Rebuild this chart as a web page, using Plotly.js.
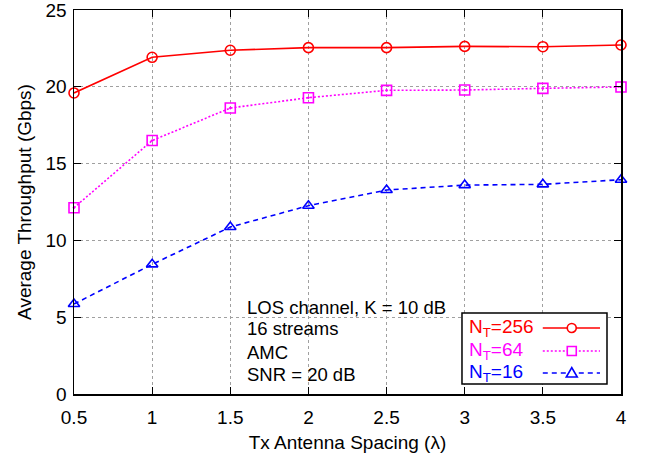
<!DOCTYPE html>
<html><head><meta charset="utf-8">
<script src="https://cdn.plot.ly/plotly-3.0.1.min.js"></script>
<style>html,body{margin:0;padding:0;background:#fff}</style>
</head><body>
<div id="chart" style="width:649px;height:460px"></div>
<script>
const spacing = [0.5, 1, 1.5, 2, 2.5, 3, 3.5, 4];
const nt256 = [19.6, 21.92, 22.38, 22.55, 22.55, 22.63, 22.61, 22.72];
const nt64  = [12.13, 16.5, 18.62, 19.29, 19.77, 19.79, 19.9, 19.99];
const nt16  = [5.86, 8.44, 10.87, 12.26, 13.28, 13.6, 13.65, 13.95];
const seriesNames = ['N<sub>T</sub>=256', 'N<sub>T</sub>=64', 'N<sub>T</sub>=16'];
const noteLines = ['LOS channel, K = 10 dB', '16 streams', 'AMC', 'SNR = 20 dB'];
const xTicks = [0.5, 1, 1.5, 2, 2.5, 3, 3.5, 4];
const yTicks = [0, 5, 10, 15, 20, 25];

const colors = ['#ff0000', '#ff00ff', '#0000ff'];
const dashes = ['solid', '2px,2px', '5px,4px'];
const symbols = ['circle-open', 'square-open-dot', 'triangle-up-open'];
const allY = [nt256, nt64, nt16];

const traces = allY.map((ys, i) => ({
  x: spacing, y: ys, type: 'scatter', mode: 'lines+markers', name: seriesNames[i],
  line: {color: colors[i], width: 1.6, dash: dashes[i]},
  marker: {symbol: symbols[i], size: 10, color: colors[i], line: {color: colors[i], width: 1.6}},
  cliponaxis: false, showlegend: false
}));

const font = 'Liberation Sans, Arial, Helvetica, sans-serif';
const annotations = [];
const shapes = [];
const noteY = [0.226, 0.1695, 0.109, 0.0495];
noteLines.forEach((t, i) => annotations.push({
  xref: 'paper', yref: 'paper', x: 0.3125, y: noteY[i], xanchor: 'left', yanchor: 'middle',
  text: t, showarrow: false, font: {family: font, size: 18.5, color: '#000'}
}));
// custom legend (gnuplot style: label left, sample right)
shapes.push({type: 'rect', xref: 'paper', yref: 'paper', x0: 0.7093, x1: 0.9744, y0: 0.026, y1: 0.2109,
  line: {color: '#000', width: 1.5}, fillcolor: '#fff', layer: 'above'});
const rowY = [0.1719, 0.112, 0.0547];
seriesNames.forEach((n, i) => {
  annotations.push({xref: 'paper', yref: 'paper', x: 0.7185, y: rowY[i], xanchor: 'left', yanchor: 'middle',
    text: n, showarrow: false, font: {family: font, size: 19, color: colors[i]}});
  shapes.push({type: 'line', xref: 'paper', yref: 'paper', x0: 0.857, x1: 0.9616, y0: rowY[i], y1: rowY[i],
    line: {color: colors[i], width: 1.6, dash: dashes[i]}, layer: 'above'});
});
const mx = 0.910;
shapes.push({type: 'circle', xref: 'paper', yref: 'paper', xsizemode: 'pixel', ysizemode: 'pixel',
  xanchor: mx, yanchor: rowY[0], x0: -4.5, x1: 4.5, y0: -4.5, y1: 4.5, fillcolor: '#fff',
  line: {color: colors[0], width: 1.6}, layer: 'above'});
shapes.push({type: 'rect', xref: 'paper', yref: 'paper', xsizemode: 'pixel', ysizemode: 'pixel',
  xanchor: mx, yanchor: rowY[1], x0: -4.5, x1: 4.5, y0: -4.5, y1: 4.5, fillcolor: '#fff',
  line: {color: colors[1], width: 1.6}, layer: 'above'});
shapes.push({type: 'path', xref: 'paper', yref: 'paper', xsizemode: 'pixel', ysizemode: 'pixel',
  xanchor: mx, yanchor: rowY[2], path: 'M -5.5 -4 L 5.5 -4 L 0 5.5 Z', fillcolor: '#fff',
  line: {color: colors[2], width: 1.6}, layer: 'above'});

const axisCommon = {
  showline: true, linecolor: '#000', linewidth: 1.5, mirror: 'ticks',
  ticks: 'inside', ticklen: 7, tickwidth: 1.2, tickcolor: '#000',
  showgrid: true, gridcolor: '#a0a0a0', griddash: 'dot', gridwidth: 1,
  zeroline: false, tickfont: {family: font, size: 19, color: '#000'},
  ticklabeloverflow: 'allow'
};

const layout = {
  width: 649, height: 460,
  margin: {l: 74, r: 28, t: 10, b: 66},
  paper_bgcolor: '#fff', plot_bgcolor: '#fff',
  showlegend: false,
  xaxis: Object.assign({}, axisCommon, {
    range: [0.5, 4], tickmode: 'array', tickvals: xTicks, ticktext: xTicks.map(String),
    ticklabelstandoff: 6,
    title: {text: 'Tx Antenna Spacing (λ)', font: {family: font, size: 19, color: '#000'}, standoff: 8}
  }),
  yaxis: Object.assign({}, axisCommon, {
    range: [0, 25], tickmode: 'array', tickvals: yTicks, ticktext: yTicks.map(String),
    ticklabelstandoff: 2,
    title: {text: 'Average Throughput (Gbps)', font: {family: font, size: 19, color: '#000'}, standoff: 9}
  }),
  annotations: annotations, shapes: shapes
};

Plotly.newPlot('chart', traces, layout, {displayModeBar: false, staticPlot: true});
</script>
</body></html>
